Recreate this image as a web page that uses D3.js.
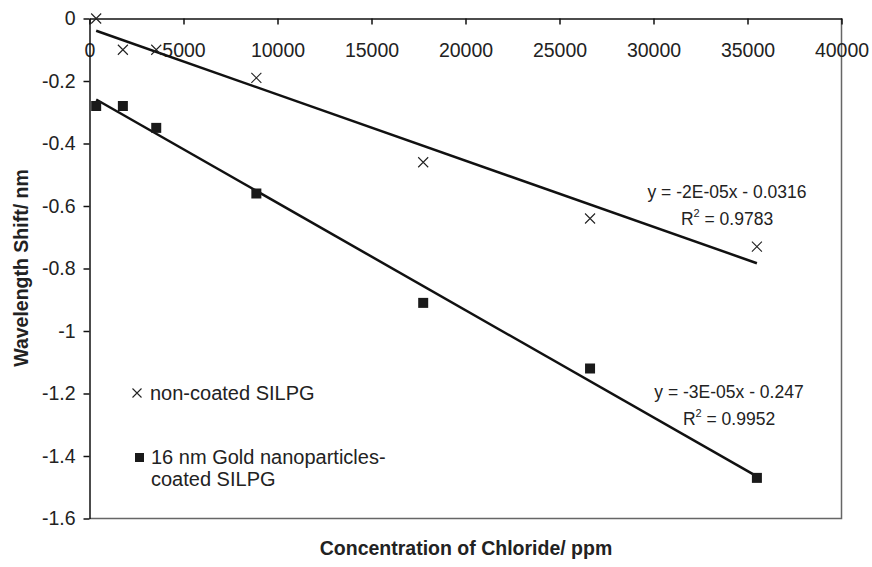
<!DOCTYPE html>
<html>
<head>
<meta charset="utf-8">
<script src="https://cdn.jsdelivr.net/npm/d3@7"></script>
<style>
  body { margin: 0; background: #fff; }
  text { font-family: Arial, "Liberation Sans", Helvetica, sans-serif; fill: #222; }
</style>
</head>
<body>
<div class="chart"></div>
<script>
// chloride concentration (ppm)
const concentrations = [355, 1775, 3550, 8875, 17750, 26625, 35500];
// wavelength shift (nm)
const nonCoated = [0, -0.1, -0.1, -0.19, -0.46, -0.64, -0.73];
const goldCoated = [-0.28, -0.28, -0.35, -0.56, -0.91, -1.12, -1.47];
const xTicks = [0, 5000, 10000, 15000, 20000, 25000, 30000, 35000, 40000];
const yTicks = [0, -0.2, -0.4, -0.6, -0.8, -1, -1.2, -1.4, -1.6];
const eqNonCoated = ["y = -2E-05x - 0.0316", "0.9783"];
const eqGold = ["y = -3E-05x - 0.247", "0.9952"];

const W = 872, H = 567;
const svg = d3.select(".chart").append("svg").attr("width", W).attr("height", H);

const x = d3.scaleLinear().domain([0, 40000]).range([89.5, 841.5]);
const y = d3.scaleLinear().domain([0, -1.6]).range([18.5, 518.5]);

// frame (right + bottom)
svg.append("path")
  .attr("d", `M${x(40000)},${y(0)}V${y(-1.6)}H${x(0)}`)
  .attr("fill", "none").attr("stroke", "#666").attr("stroke-width", 1.5);

// x axis along the top
const xAxis = svg.append("g")
  .attr("transform", `translate(0,${y(0)})`)
  .call(d3.axisBottom(x).tickValues(xTicks).tickSize(6).tickPadding(19).tickSizeOuter(0).tickFormat(d3.format("d")));
xAxis.selectAll("text").attr("font-size", 19.5).attr("fill", "#222");

// y axis
const yAxis = svg.append("g")
  .attr("transform", `translate(${x(0)},0)`)
  .call(d3.axisLeft(y).tickValues(yTicks).tickSize(6).tickPadding(8).tickSizeOuter(0).tickFormat(d => d === 0 ? "0" : String(d)));
yAxis.selectAll("text").attr("font-size", 19.5).attr("fill", "#222");

svg.selectAll(".domain, .tick line").attr("stroke", "#111").attr("stroke-width", 1.5);
svg.selectAll(".tick text").style("font-family", "Arial, 'Liberation Sans', sans-serif");

// least squares fit, like the spreadsheet trendline
function fit(xs, ys) {
  const mx = d3.mean(xs), my = d3.mean(ys);
  const b = d3.sum(xs, (v, i) => (v - mx) * (ys[i] - my)) / d3.sum(xs, v => (v - mx) * (v - mx));
  return { b: b, a: my - b * mx };
}

[nonCoated, goldCoated].forEach(series => {
  const f = fit(concentrations, series);
  const x0 = d3.min(concentrations), x1 = d3.max(concentrations);
  svg.append("line")
    .attr("x1", x(x0)).attr("y1", y(f.a + f.b * x0))
    .attr("x2", x(x1)).attr("y2", y(f.a + f.b * x1))
    .attr("stroke", "#111").attr("stroke-width", 2.5);
});

// cross markers
const cross = (g, cx, cy, r) => g.append("path")
  .attr("d", `M${cx - r},${cy - r}L${cx + r},${cy + r}M${cx - r},${cy + r}L${cx + r},${cy - r}`)
  .attr("stroke", "#222").attr("stroke-width", 1.1).attr("fill", "none");

const gCross = svg.append("g");
concentrations.forEach((c, i) => cross(gCross, x(c), y(nonCoated[i]), 5));

svg.append("g").selectAll("rect")
  .data(concentrations)
  .enter()
  .append("rect")
  .attr("x", (d) => x(d) - 5)
  .attr("y", (d, i) => y(goldCoated[i]) - 5)
  .attr("width", 10).attr("height", 10)
  .attr("fill", "#1a1a1a");

// equations
function equation(lines, cx, cy) {
  svg.append("text").attr("x", cx).attr("y", cy).attr("text-anchor", "middle")
    .attr("dy", "0.35em").attr("font-size", 17.5).text(lines[0]);
  const t = svg.append("text").attr("x", cx).attr("y", cy + 27).attr("text-anchor", "middle")
    .attr("dy", "0.35em").attr("font-size", 17.5);
  t.append("tspan").text("R");
  t.append("tspan").attr("font-size", 11).attr("dy", "-0.7em").text("2");
  t.append("tspan").attr("dy", "0.45em").text(" = " + lines[1]);
}
equation(eqNonCoated, 727, 192);
equation(eqGold, 729, 392);

// legend
cross(svg, 137, 393, 4.5);
svg.append("text").attr("x", 150).attr("y", 393).attr("dy", "0.35em").attr("font-size", 20).text("non-coated SILPG");
svg.append("rect").attr("x", 135).attr("y", 453).attr("width", 9).attr("height", 9).attr("fill", "#1a1a1a");
svg.append("text").attr("x", 151).attr("y", 457).attr("dy", "0.35em").attr("font-size", 20).text("16 nm Gold nanoparticles-");
svg.append("text").attr("x", 151).attr("y", 479).attr("dy", "0.35em").attr("font-size", 20).text("coated SILPG");

// axis titles
svg.append("text")
  .attr("x", 466).attr("y", 548).attr("dy", "0.35em").attr("text-anchor", "middle")
  .attr("font-size", 19.5).attr("font-weight", "bold").text("Concentration of Chloride/ ppm");
svg.append("text")
  .attr("transform", "translate(21,268) rotate(-90)")
  .attr("dy", "0.35em").attr("text-anchor", "middle")
  .attr("font-size", 19.5).attr("font-weight", "bold").text("Wavelength Shift/ nm");
</script>
</body>
</html>
